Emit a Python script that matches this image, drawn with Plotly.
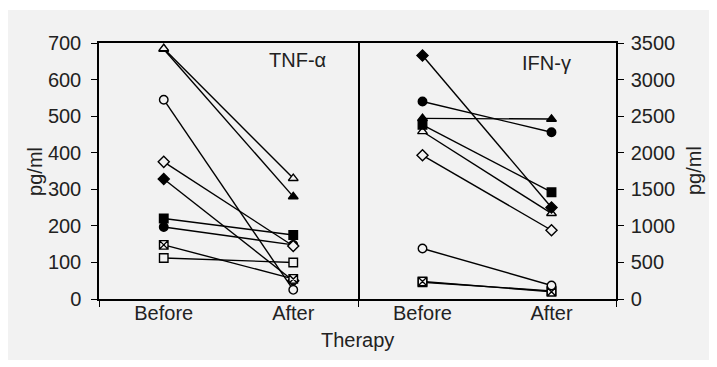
import plotly.graph_objects as go

# ---- data ----
categories = ["Before", "After"]

series_names = ["Filled triangle", "Open triangle", "Filled diamond", "Filled square",
                "Filled circle", "Open square", "Cross box", "Open diamond", "Open circle"]
symbols = ["triangle-up", "triangle-up", "diamond", "square",
           "circle", "square", "square-x", "diamond", "circle"]
filled = [True, False, True, True, True, False, False, False, False]

tnf_before = [683, 685, 328, 220, 197, 112, 148, 375, 545]
tnf_after = [280, 330, 50, 175, 148, 100, 55, 145, 25]

ifn_before = [2470, 2290, 3330, 2380, 2700, 230, 240, 1965, 690]
ifn_after = [2460, 1170, 1250, 1460, 2280, 110, 100, 940, 185]

tnf_ticks = [0, 100, 200, 300, 400, 500, 600, 700]
ifn_ticks = [0, 500, 1000, 1500, 2000, 2500, 3000, 3500]

BG = "#f2f2f2"
INK = "#222222"
FONT = "Liberation Sans, Arial, sans-serif"
FS = 20

fig = go.Figure()

xpos = [0, 1]
for i, name in enumerate(series_names):
    mk = dict(symbol=symbols[i], size=8.5,
              color="black" if filled[i] else BG,
              line=dict(color="black", width=1.4))
    fig.add_trace(go.Scatter(x=xpos, y=[tnf_before[i], tnf_after[i]], mode="lines+markers",
                             line=dict(color="black", width=1.4), marker=mk,
                             name=name, showlegend=False, xaxis="x", yaxis="y"))
    fig.add_trace(go.Scatter(x=xpos, y=[ifn_before[i], ifn_after[i]], mode="lines+markers",
                             line=dict(color="black", width=1.4), marker=mk,
                             name=name, showlegend=False, xaxis="x2", yaxis="y2"))

split = 259 / 517
common_x = dict(range=[-0.5, 1.5], tickvals=xpos, ticktext=categories, ticks="",
                showline=True, linecolor="black", linewidth=1.5, mirror=True,
                showgrid=False, zeroline=False, ticklabelstandoff=-5,
                tickfont=dict(size=FS, color=INK, family=FONT),
                minor=dict(tickvals=[-0.5, 1.5], ticks="outside", ticklen=6,
                           tickcolor="black", tickwidth=1, showgrid=False))

fig.update_layout(
    width=717, height=367,
    margin=dict(l=91, r=109, t=35, b=76, autoexpand=False),
    paper_bgcolor="white", plot_bgcolor="rgba(0,0,0,0)",
    font=dict(family=FONT, size=FS, color=INK),
    xaxis=dict(domain=[0, split], anchor="y", **common_x),
    xaxis2=dict(domain=[split, 1], anchor="y2", **common_x),
    yaxis=dict(range=[0, 700], tickvals=tnf_ticks, ticks="outside", ticklen=6,
               tickcolor="black", showline=True, linecolor="black", linewidth=1.5,
               mirror=True, showgrid=False, zeroline=False, anchor="x",
               tickfont=dict(size=FS, color=INK, family=FONT), ticklabelstandoff=6),
    yaxis2=dict(range=[0, 3500], tickvals=ifn_ticks, ticks="outside", ticklen=6,
                tickcolor="black", showline=True, linecolor="black", linewidth=1.5,
                mirror=False, showgrid=False, zeroline=False, anchor="x2", side="right",
                tickfont=dict(size=FS, color=INK, family=FONT), ticklabelstandoff=3),
    shapes=[dict(type="rect", xref="paper", yref="paper", layer="below",
                 x0=-0.178, x1=1.2, y0=-0.238, y1=1.129,
                 fillcolor=BG, line=dict(width=0))],
    annotations=[
        dict(text="TNF-α", xref="paper", yref="paper", x=0.384, y=0.934,
             xanchor="center", yanchor="middle",
             showarrow=False, font=dict(size=FS, color=INK, family=FONT)),
        dict(text="IFN-γ", xref="paper", yref="paper", x=0.866, y=0.922,
             xanchor="center", yanchor="middle",
             showarrow=False, font=dict(size=FS, color=INK, family=FONT)),
        dict(text="Therapy", xref="paper", yref="paper", x=0.5, y=0, yanchor="top",
             xanchor="center", yshift=-28,
             showarrow=False, font=dict(size=FS, color=INK, family=FONT)),
        dict(text="pg/ml", xref="paper", yref="paper", x=-0.124, y=0.5, textangle=-90,
             xanchor="center", yanchor="middle",
             showarrow=False, font=dict(size=FS, color=INK, family=FONT)),
        dict(text="pg/ml", xref="paper", yref="paper", x=1.151, y=0.5, textangle=-90,
             xanchor="center", yanchor="middle",
             showarrow=False, font=dict(size=FS, color=INK, family=FONT)),
    ],
)

fig.write_html("out.html")
